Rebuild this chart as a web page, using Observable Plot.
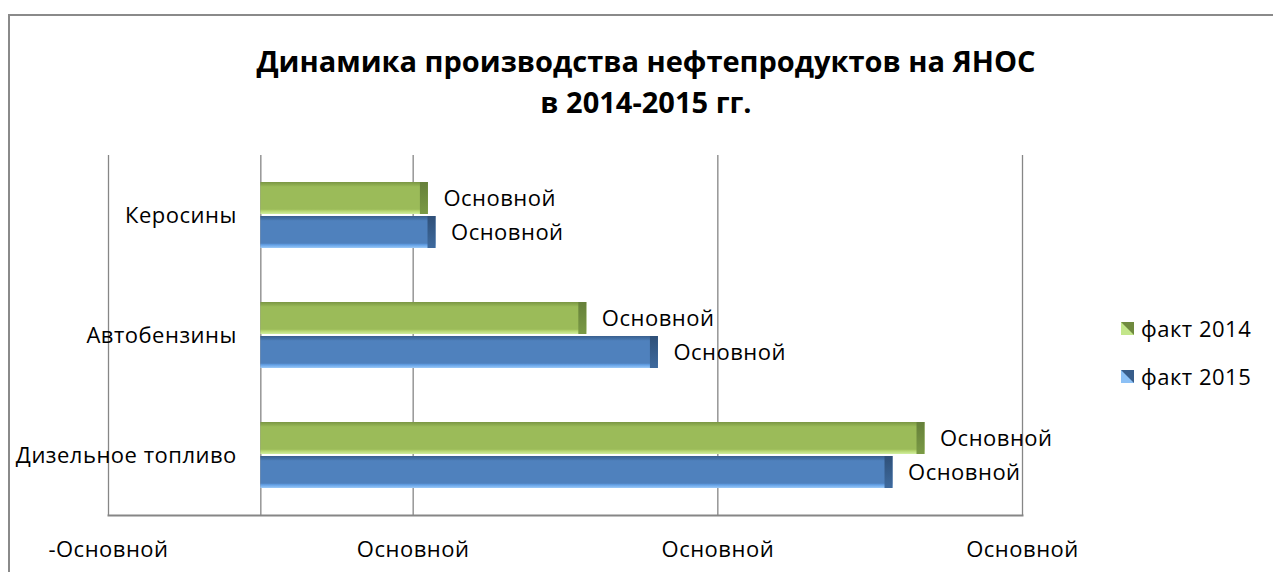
<!DOCTYPE html>
<html>
<head>
<meta charset="utf-8">
<script src="https://cdn.jsdelivr.net/npm/d3@7"></script>
<script src="https://cdn.jsdelivr.net/npm/@observablehq/plot@0.6"></script>
<style>
  body { margin: 0; background: #fff; }
  #wrap { position: relative; width: 1273px; height: 572px; overflow: hidden; font-family: "Open Sans", sans-serif; color: #000; }
  #border { position: absolute; left: 8px; top: 14px; width: 1300px; height: 600px; border-left: 2px solid #8a8a8a; border-top: 2px solid #8a8a8a; }
  #title { position: absolute; left: 0; width: 1292px; top: 40px; text-align: center; font-weight: bold; font-size: 29px; line-height: 41px; }
  #chart { position: absolute; left: 0; top: 0; }
  #chart svg text { letter-spacing: 0.5px; }
  #legend { position: absolute; left: 1121px; top: 304px; font-size: 22px; letter-spacing: 0.5px; }
  .li { display: flex; align-items: center; height: 48px; }
  .li svg { margin-right: 7px; }
</style>
</head>
<body>
<div id="wrap">
  <div id="border"></div>
  <div id="chart"></div>
  <div id="title">Динамика производства нефтепродуктов на ЯНОС<br>в 2014-2015 гг.</div>
  <div id="legend"></div>
</div>
<script>
const categories = ["Керосины", "Автобензины", "Дизельное топливо"];
const seriesNames = ["факт 2014", "факт 2015"];
const fact2014 = [110, 214, 436];
const fact2015 = [115, 261, 415];
const xTicks = [-100, 100, 300, 500];
const tickLabels = ["-Основной", "Основной", "Основной", "Основной"];
const valueLabel = "Основной";

const rows = categories.flatMap((c, i) => [
  {cat: c, series: seriesNames[0], v: fact2014[i]},
  {cat: c, series: seriesNames[1], v: fact2015[i]}
]);
const fills = {"факт 2014": "url(#g14)", "факт 2015": "url(#g15)"};
const edges = {"факт 2014": "url(#e14)", "факт 2015": "url(#e15)"};
const grid = "#868686";

const plot = Plot.plot({
  width: 1273,
  height: 572,
  marginLeft: 108,
  marginRight: 251,
  marginTop: 155,
  marginBottom: 57,
  style: {fontFamily: "Open Sans, sans-serif", fontSize: "22px", color: "#000", background: "transparent"},
  x: {domain: [-100, 500], axis: null},
  y: {domain: seriesNames, paddingInner: 0.05, paddingOuter: 0.75, axis: null},
  fy: {domain: categories, padding: 0, axis: null},
  marks: [
    Plot.ruleX([-100, 0, 100, 300, 500], {stroke: grid, strokeWidth: 1.3}),
    Plot.frame({anchor: "bottom", facetAnchor: "bottom", stroke: grid, strokeWidth: 2}),
    Plot.axisX(xTicks, {tickSize: 0, tickPadding: 26, label: null, tickFormat: (d) => tickLabels[xTicks.indexOf(d)], fontSize: 22}),
    ...seriesNames.map(s => Plot.barX(rows, {filter: d => d.series === s, x: "v", y: "series", fy: "cat", fill: fills[s]})),
    ...seriesNames.map(s => Plot.barX(rows, {filter: d => d.series === s, x1: "v", x2: "v", insetLeft: -8, y: "series", fy: "cat", fill: edges[s]})),
    Plot.text(rows, {x: "v", y: "series", fy: "cat", text: () => valueLabel, textAnchor: "start", dx: 15, fontSize: 22}),
    Plot.text(categories, {fy: d => d, x: () => 0, text: d => d, textAnchor: "end", dx: -24, fontSize: 22})
  ]
});

const defs = `
<linearGradient id="g14" x1="0" y1="0" x2="0" y2="1">
  <stop offset="0" stop-color="#7a9644"/><stop offset="0.1" stop-color="#8fae50"/>
  <stop offset="0.15" stop-color="#9bbb59"/><stop offset="0.85" stop-color="#9bbb59"/>
  <stop offset="0.9" stop-color="#b4d46e"/><stop offset="1" stop-color="#d2f0a0"/>
</linearGradient>
<linearGradient id="g15" x1="0" y1="0" x2="0" y2="1">
  <stop offset="0" stop-color="#3a5f8e"/><stop offset="0.1" stop-color="#4574ab"/>
  <stop offset="0.15" stop-color="#4f81bd"/><stop offset="0.85" stop-color="#4f81bd"/>
  <stop offset="0.9" stop-color="#62a0e6"/><stop offset="1" stop-color="#9ccaf8"/>
</linearGradient>
<linearGradient id="e14" x1="0" y1="0" x2="0" y2="1">
  <stop offset="0" stop-color="#66803a"/><stop offset="1" stop-color="#7a9a45"/>
</linearGradient>
<linearGradient id="e15" x1="0" y1="0" x2="0" y2="1">
  <stop offset="0" stop-color="#2f5078"/><stop offset="1" stop-color="#3e6a9e"/>
</linearGradient>`;
const d = document.createElementNS("http://www.w3.org/2000/svg", "defs");
d.innerHTML = defs;
plot.insertBefore(d, plot.firstChild);
document.getElementById("chart").appendChild(plot);

// legend
const legendColors = [["#c3e68a", "#6f8a3e"], ["#8cc0f5", "#385d8a"]];
const leg = document.getElementById("legend");
seriesNames.forEach((s, i) => {
  const div = document.createElement("div");
  div.className = "li";
  div.innerHTML = `<svg width="13" height="13"><rect width="13" height="13" fill="${legendColors[i][0]}"/><polygon points="0,0 13,0 13,13" fill="${legendColors[i][1]}"/></svg><span>${s}</span>`;
  leg.appendChild(div);
});
</script>
</body>
</html>
